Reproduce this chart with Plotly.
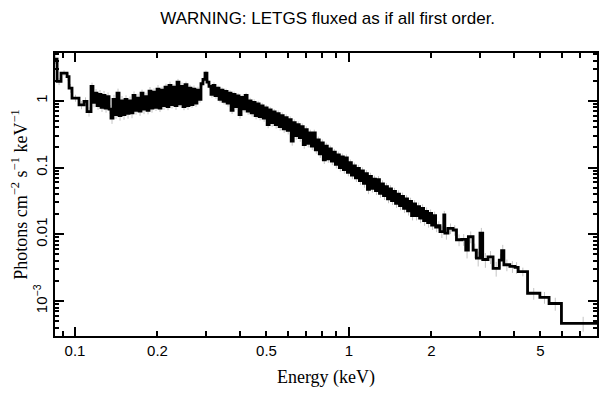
import numpy as np
import plotly.graph_objects as go

# ---- data: bin lower edges (keV), flux (photons cm^-2 s^-1 keV^-1), relative errors ----
edges_left = [0.0838, 0.0860, 0.0889, 0.0935, 0.0951, 0.0975, 0.1034, 0.1078, 0.1106]
flux_left = [4.2, 1.95, 2.6, 2.3, 1.55, 1.1, 0.87, 0.98, 0.69]
err_left = [0.15, 0.12, 0.10, 0.14, 0.15, 0.12, 0.14, 0.15, 0.16]

edges_soft = [0.1144, 0.1163, 0.1183, 0.1203, 0.1224, 0.1244, 0.1265, 0.1287, 0.1309, 0.1331,
              0.1353, 0.1376, 0.1400, 0.1423, 0.1448, 0.1472, 0.1497, 0.1522, 0.1548, 0.1575,
              0.1601, 0.1628, 0.1656, 0.1684, 0.1713, 0.1742, 0.1771, 0.1801, 0.1832, 0.1863,
              0.1894, 0.1926, 0.1959, 0.1992, 0.2026, 0.2060, 0.2095, 0.2130, 0.2167, 0.2203,
              0.2241, 0.2279, 0.2317, 0.2357, 0.2396, 0.2437, 0.2478, 0.2520, 0.2563, 0.2607,
              0.2651, 0.2696, 0.2741, 0.2788, 0.2835, 0.2883, 0.2932, 0.2982, 0.3032, 0.3084,
              0.3136, 0.3189, 0.3243]
flux_soft = [1.64, 0.95, 1.3, 0.85, 1.25, 0.8, 1.2, 0.78, 1.15, 0.75,
             0.55, 1.05, 0.62, 1.3, 0.6, 1.0, 0.62, 1.05, 0.65, 1.0,
             0.66, 1.2, 0.72, 1.1, 0.7, 1.3, 0.75, 1.15, 0.72, 1.4,
             0.78, 1.35, 0.8, 1.5, 0.78, 1.45, 0.85, 1.6, 0.82, 1.7,
             0.88, 1.6, 0.85, 1.9, 0.9, 1.65, 0.82, 1.75, 0.85, 1.55,
             0.88, 1.5, 0.92, 1.45, 1.05, 1.8, 2.1, 2.6, 1.9, 1.65,
             1.25, 1.7, 1.2]
err_soft = [0.14, 0.16, 0.15, 0.14, 0.16, 0.15, 0.17, 0.15, 0.16, 0.15,
            0.18, 0.17, 0.14, 0.17, 0.16, 0.18, 0.16, 0.15, 0.17, 0.16,
            0.17, 0.15, 0.14, 0.16, 0.15, 0.13, 0.16, 0.15, 0.13, 0.15,
            0.15, 0.14, 0.12, 0.15, 0.13, 0.12, 0.14, 0.13, 0.12, 0.14,
            0.13, 0.11, 0.14, 0.12, 0.11, 0.14, 0.12, 0.11, 0.14, 0.12,
            0.11, 0.13, 0.12, 0.12, 0.11, 0.10, 0.09, 0.09, 0.10, 0.10,
            0.11, 0.11, 0.11]

edges_mid = [0.330, 0.3356, 0.3413, 0.3471, 0.3530, 0.3590, 0.3651, 0.3713, 0.3776, 0.3840,
             0.3905, 0.3971, 0.4039, 0.4108, 0.4178, 0.4249, 0.4321, 0.4394, 0.4469, 0.4545,
             0.4622, 0.4701, 0.4781, 0.4862, 0.4945, 0.5029, 0.5114, 0.5201, 0.5289, 0.5379,
             0.5471, 0.5564, 0.5659, 0.5755, 0.5853, 0.5952, 0.6053, 0.6156, 0.6261, 0.6367,
             0.6475, 0.6585, 0.6697, 0.6811, 0.6927, 0.7045, 0.7165, 0.7287, 0.7411, 0.7537,
             0.7665, 0.7795, 0.7928, 0.8063, 0.8200, 0.8339, 0.8481, 0.8625, 0.8772, 0.8921,
             0.9073, 0.9227, 0.9384, 0.9543, 0.9705, 0.9870, 1.0038, 1.0209, 1.0383, 1.0560,
             1.0740, 1.0923, 1.1109, 1.1298, 1.1490, 1.1685, 1.1884, 1.2086, 1.2291, 1.2500,
             1.2713, 1.2929, 1.3149, 1.3373, 1.3600, 1.3831, 1.4066, 1.4305, 1.4548, 1.4795,
             1.5047, 1.5303, 1.5563, 1.5828, 1.6097, 1.6371, 1.6649, 1.6932, 1.7220, 1.7513,
             1.7811, 1.8114, 1.8422, 1.8735, 1.9053, 1.9377, 1.9706, 2.0041, 2.0382, 2.0729,
             2.1081]
flux_mid = [1.55, 1.05, 1.45, 0.98, 1.38, 0.92, 1.30, 0.72, 1.25, 0.82,
            1.18, 0.62, 1.12, 0.76, 1.20, 0.70, 1.00, 0.66, 0.95, 0.60,
            0.90, 0.58, 0.84, 0.55, 0.78, 0.44, 0.73, 0.47, 0.68, 0.44,
            0.64, 0.41, 0.60, 0.38, 0.56, 0.36, 0.52, 0.25, 0.47, 0.30,
            0.44, 0.28, 0.41, 0.22, 0.37, 0.23, 0.33, 0.21, 0.33, 0.185,
            0.26, 0.16, 0.235, 0.13, 0.21, 0.135, 0.19, 0.125, 0.17, 0.112,
            0.155, 0.100, 0.145, 0.093, 0.140, 0.085, 0.118, 0.077, 0.106, 0.070,
            0.097, 0.064, 0.089, 0.058, 0.081, 0.047, 0.074, 0.049, 0.067, 0.045,
            0.066, 0.041, 0.057, 0.038, 0.052, 0.034, 0.048, 0.032, 0.044, 0.029,
            0.040, 0.027, 0.037, 0.0245, 0.034, 0.0225, 0.031, 0.019, 0.0285, 0.019,
            0.026, 0.0175, 0.0245, 0.016, 0.022, 0.015, 0.0205, 0.0138, 0.019, 0.0128,
            0.0135]
err_mid = [0.09, 0.10, 0.09, 0.10, 0.10, 0.11, 0.10, 0.12, 0.10, 0.11,
           0.10, 0.13, 0.10, 0.12, 0.10, 0.12, 0.11, 0.12, 0.11, 0.12,
           0.11, 0.12, 0.11, 0.12, 0.11, 0.12, 0.11, 0.13, 0.11, 0.13,
           0.12, 0.13, 0.12, 0.13, 0.12, 0.13, 0.12, 0.15, 0.12, 0.13,
           0.12, 0.13, 0.12, 0.13, 0.12, 0.13, 0.12, 0.13, 0.12, 0.13,
           0.12, 0.13, 0.12, 0.13, 0.12, 0.13, 0.12, 0.13, 0.12, 0.13,
           0.12, 0.13, 0.12, 0.13, 0.12, 0.13, 0.12, 0.13, 0.12, 0.13,
           0.13, 0.14, 0.13, 0.14, 0.13, 0.15, 0.13, 0.14, 0.13, 0.14,
           0.13, 0.14, 0.13, 0.14, 0.13, 0.14, 0.13, 0.14, 0.13, 0.14,
           0.14, 0.15, 0.14, 0.15, 0.14, 0.15, 0.14, 0.15, 0.14, 0.15,
           0.15, 0.16, 0.15, 0.16, 0.15, 0.16, 0.15, 0.16, 0.15, 0.16,
           0.16]

edges_hard = [2.15, 2.22, 2.24, 2.30, 2.40, 2.47, 2.58, 2.67, 2.73, 2.84,
              2.92, 3.01, 3.08, 3.22, 3.36, 3.54, 3.61, 3.68, 3.87, 4.04,
              4.15, 4.49, 4.98, 5.38, 5.97, 8.6]   # last value = upper edge of last bin
flux_hard = [0.011, 0.0195, 0.0104, 0.0123, 0.0116, 0.0083, 0.0084, 0.0058, 0.0092, 0.0058,
             0.0044, 0.0104, 0.0042, 0.0046, 0.0031, 0.0041, 0.0057, 0.0035, 0.0033, 0.0032,
             0.00276, 0.00131, 0.00114, 0.00092, 0.000465]
err_hard = [0.20, 0.15, 0.20, 0.18, 0.18, 0.20, 0.20, 0.25, 0.20, 0.25,
            0.25, 0.20, 0.25, 0.22, 0.25, 0.25, 0.22, 0.20, 0.20, 0.20,
            0.15, 0.20, 0.20, 0.22, 0.25]

x_tick_vals = [0.1, 0.2, 0.5, 1, 2, 5]
x_tick_text = ["0.1", "0.2", "0.5", "1", "2", "5"]
x_minor_vals = [0.09, 0.3, 0.4, 0.6, 0.7, 0.8, 0.9, 3, 4, 6, 7, 8]
x_decade_vals = [0.1, 1]
y_tick_vals = [0.001, 0.01, 0.1, 1]
y_tick_text = ["10<sup>−3</sup>", "0.01", "0.1", "1"]
y_minor_vals = [4e-4, 5e-4, 6e-4, 7e-4, 8e-4, 9e-4,
                2e-3, 3e-3, 4e-3, 5e-3, 6e-3, 7e-3, 8e-3, 9e-3,
                0.02, 0.03, 0.04, 0.05, 0.06, 0.07, 0.08, 0.09,
                0.2, 0.3, 0.4, 0.5, 0.6, 0.7, 0.8, 0.9, 2, 3, 4, 5]
x_range = [0.0845, 8.05]
y_range = [3.0e-4, 5.2]

# ---- build ----
edges = np.array(edges_left + edges_soft + edges_mid + edges_hard)
flux = np.array(flux_left + flux_soft + flux_mid + flux_hard)
err = np.array(err_left + err_soft + err_mid + err_hard) * flux
centers = np.sqrt(edges[:-1] * edges[1:])

fig = go.Figure()
fig.add_trace(go.Scatter(
    x=centers, y=flux, mode="markers",
    marker=dict(size=1, color="rgba(0,0,0,0)"),
    error_y=dict(type="data", array=err, color="#c4c4c4", thickness=1, width=0),
    showlegend=False, hoverinfo="skip"))
fig.add_trace(go.Scatter(
    x=edges, y=np.append(flux, flux[-1]), mode="lines",
    line=dict(shape="hv", color="black", width=2.8),
    showlegend=False))
fig.add_trace(go.Scatter(x=[], y=[], xaxis="x2", yaxis="y2", showlegend=False))

tickfont = dict(family="Liberation Sans, Arial, sans-serif", size=15, color="black")
serif = dict(family="Liberation Serif, Times New Roman, serif", size=18, color="black")

# the page body adds an 8px offset, margins compensate for it
fig.update_layout(
    width=609, height=399,
    margin=dict(l=47, r=20, t=45, b=71, autoexpand=False),
    paper_bgcolor="white", plot_bgcolor="white",
    title=dict(text="WARNING: LETGS fluxed as if all first order.",
               font=dict(family="Liberation Sans, Arial, sans-serif", size=17, color="black"),
               x=0.525, xanchor="center", y=0.975, yanchor="middle"),
    xaxis=dict(type="log", range=[np.log10(x_range[0]), np.log10(x_range[1])],
               tickvals=x_tick_vals, ticktext=x_tick_text, ticks="inside", ticklen=5,
               tickwidth=1.5, tickcolor="black", showline=True, linewidth=2, linecolor="black",
               mirror="ticks", showgrid=False, zeroline=False, tickfont=tickfont,
               automargin=False,
               minor=dict(tickvals=x_minor_vals, ticks="inside", ticklen=5, tickwidth=1.5,
                          tickcolor="black", showgrid=False),
               title=dict(text="Energy (keV)", font=serif, standoff=12)),
    xaxis2=dict(type="log", range=[np.log10(x_range[0]), np.log10(x_range[1])],
                overlaying="x", anchor="y", tickvals=x_decade_vals, ticks="inside", ticklen=9,
                tickwidth=1.5, tickcolor="black", showticklabels=False, showgrid=False,
                mirror="ticks", showline=True, linewidth=2, linecolor="black", side="bottom",
                automargin=False),
    yaxis=dict(type="log", range=[np.log10(y_range[0]), np.log10(y_range[1])],
               tickvals=y_tick_vals, ticktext=y_tick_text, ticks="inside", ticklen=9,
               tickwidth=1.5, tickcolor="black", showline=True, linewidth=2, linecolor="black",
               mirror="ticks", showgrid=False, zeroline=False, tickfont=tickfont, tickangle=-90,
               automargin=False,
               minor=dict(tickvals=y_minor_vals, ticks="inside", ticklen=4, tickwidth=1.5,
                          tickcolor="black", showgrid=False),
               title=dict(text="Photons cm<sup>−2</sup> s<sup>−1</sup> keV<sup>−1</sup>",
                          font=serif, standoff=4)),
    yaxis2=dict(type="log", range=[np.log10(y_range[0]), np.log10(y_range[1])],
                overlaying="y", anchor="x2", showticklabels=False, showgrid=False,
                ticks="", showline=False, zeroline=False, automargin=False),
)

fig.write_html("out.html")
